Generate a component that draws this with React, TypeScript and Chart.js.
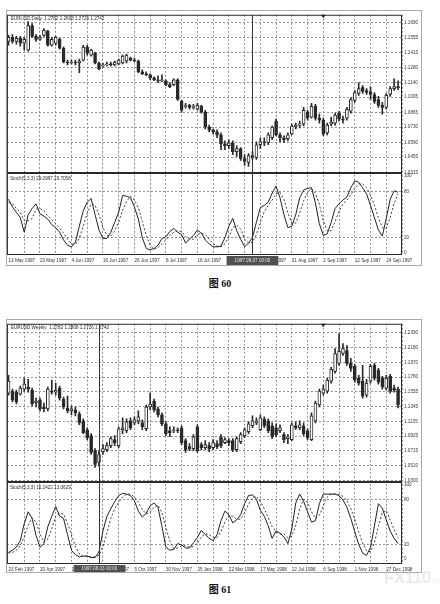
import React, { useEffect, useRef } from "react";
import { Chart, registerables } from "chart.js";

Chart.register(...registerables);

const FONT = "'Liberation Sans', Arial, sans-serif";
const FONT_SIZE = 4.6;
const INK = "#2a2a2a";
const GRID = "#8e8e8e";

// ---------------- Figure 60 : EURUSD Daily ----------------
const dailyOpen = [
  1.1518, 1.1554, 1.1518, 1.1545, 1.15, 1.1437, 1.1663, 1.1563, 1.1536, 1.1572,
  1.1609, 1.1482, 1.15, 1.1536, 1.1455, 1.1328, 1.1319, 1.1328, 1.1319, 1.1346,
  1.1464, 1.1391, 1.141, 1.1319, 1.1292, 1.1301, 1.131, 1.1301, 1.131, 1.1319,
  1.1337, 1.1364, 1.1346, 1.1337, 1.1238, 1.122, 1.1211, 1.1183, 1.1165, 1.1156,
  1.1156, 1.112, 1.112, 1.1165, 1.0966, 1.0921, 1.093, 1.0912, 1.0894, 1.0921,
  1.0867, 1.0731, 1.0704, 1.0686, 1.0659, 1.0577, 1.0559, 1.0586, 1.0505, 1.0532,
  1.0442, 1.0406, 1.0469, 1.0451, 1.0568, 1.0595, 1.0586, 1.0632, 1.0785, 1.0659,
  1.0632, 1.0623, 1.0668, 1.0731, 1.0749, 1.0758, 1.0867, 1.0822, 1.0921, 1.0813,
  1.0794, 1.0677, 1.0758, 1.0767, 1.0858, 1.0803, 1.0813, 1.0876, 1.0975, 1.1039,
  1.1093, 1.1066, 1.1057, 1.103, 1.0984, 1.093, 1.0912, 1.103, 1.1084, 1.1102,
];
const dailyHigh = [
  1.1572, 1.1581, 1.1563, 1.1563, 1.1554, 1.1699, 1.1681, 1.1581, 1.1572, 1.1636,
  1.1618, 1.1554, 1.1563, 1.1545, 1.1464, 1.1346, 1.1346, 1.1346, 1.1355, 1.1482,
  1.1482, 1.1446, 1.1419, 1.1328, 1.1319, 1.1328, 1.1328, 1.1337, 1.1355, 1.1391,
  1.1401, 1.1373, 1.1364, 1.1346, 1.1256, 1.1238, 1.122, 1.1192, 1.1202, 1.1211,
  1.1165, 1.1138, 1.1174, 1.1174, 1.0975, 1.0948, 1.0939, 1.0939, 1.0948, 1.093,
  1.0885, 1.0749, 1.0713, 1.0704, 1.0677, 1.0604, 1.0614, 1.0604, 1.0559, 1.0541,
  1.0478, 1.0487, 1.0505, 1.0595, 1.0632, 1.0632, 1.0677, 1.074, 1.0803, 1.0677,
  1.065, 1.0677, 1.0758, 1.0767, 1.0785, 1.0912, 1.0885, 1.0948, 1.0939, 1.0849,
  1.0813, 1.0767, 1.0822, 1.0858, 1.0876, 1.0831, 1.0912, 1.1002, 1.1066, 1.1138,
  1.1111, 1.1084, 1.1102, 1.1048, 1.1012, 1.0957, 1.1039, 1.1102, 1.1174, 1.1156,
];
const dailyLow = [
  1.1482, 1.15, 1.1491, 1.1473, 1.1437, 1.1428, 1.1554, 1.1518, 1.1527, 1.1563,
  1.1473, 1.1473, 1.1482, 1.1446, 1.1319, 1.1301, 1.131, 1.1301, 1.1229, 1.1337,
  1.1391, 1.1382, 1.131, 1.1256, 1.1283, 1.1292, 1.1292, 1.1292, 1.1301, 1.131,
  1.1319, 1.1337, 1.1328, 1.1229, 1.1211, 1.1202, 1.1165, 1.1156, 1.1138, 1.1147,
  1.1111, 1.1093, 1.1111, 1.0975, 1.0867, 1.0903, 1.0894, 1.0894, 1.0885, 1.0858,
  1.0713, 1.0686, 1.0668, 1.0632, 1.0523, 1.0523, 1.0532, 1.0478, 1.046, 1.0424,
  1.0379, 1.037, 1.0433, 1.0433, 1.0532, 1.0559, 1.0568, 1.0614, 1.065, 1.0595,
  1.0586, 1.0604, 1.0659, 1.0713, 1.0722, 1.074, 1.0794, 1.0813, 1.0794, 1.0767,
  1.065, 1.0659, 1.074, 1.0749, 1.0785, 1.0767, 1.0794, 1.0858, 1.0957, 1.1021,
  1.1039, 1.103, 1.0984, 1.0948, 1.0912, 1.0849, 1.0894, 1.1012, 1.1066, 1.1075,
];
const dailyClose = [
  1.1554, 1.1518, 1.1545, 1.15, 1.1536, 1.1663, 1.1563, 1.1536, 1.1554, 1.1618,
  1.1482, 1.1536, 1.1554, 1.1455, 1.1328, 1.1319, 1.1328, 1.1319, 1.1337, 1.1464,
  1.141, 1.1437, 1.1319, 1.1265, 1.1301, 1.131, 1.1301, 1.1328, 1.1346, 1.1382,
  1.1391, 1.1346, 1.1337, 1.1238, 1.122, 1.1211, 1.1183, 1.1165, 1.1156, 1.1165,
  1.112, 1.1102, 1.1165, 1.0984, 1.0885, 1.093, 1.0912, 1.0921, 1.093, 1.0867,
  1.0731, 1.0704, 1.0686, 1.0659, 1.0577, 1.0559, 1.0586, 1.0505, 1.0532, 1.0442,
  1.0415, 1.0469, 1.0451, 1.0568, 1.0595, 1.0586, 1.0659, 1.0731, 1.0659, 1.0632,
  1.0614, 1.0659, 1.074, 1.0749, 1.0758, 1.0885, 1.0813, 1.0921, 1.0813, 1.0794,
  1.0668, 1.0749, 1.0776, 1.084, 1.0803, 1.0794, 1.0894, 1.0984, 1.1048, 1.1084,
  1.1057, 1.1048, 1.103, 1.0966, 1.093, 1.0912, 1.1021, 1.1084, 1.1102, 1.1093,
];
const dailyStochK = [
  70, 60, 53, 46, 27, 50, 58, 64, 51, 48,
  44, 37, 33, 27, 17, 10, 8, 14, 35, 55,
  66, 71, 50, 30, 19, 19, 27, 40, 53, 75,
  74, 72, 60, 44, 20, 6, 4, 6, 10, 19,
  21, 28, 32, 27, 24, 13, 18, 23, 30, 26,
  17, 12, 8, 8, 9, 20, 35, 45, 29, 18,
  8, 13, 20, 40, 59, 62, 66, 78, 87, 72,
  50, 33, 35, 50, 72, 82, 84, 85, 65, 38,
  23, 25, 40, 58, 64, 69, 73, 85, 94, 92,
  85, 77, 62, 46, 30, 22, 45, 70, 81, 79,
];
const dailyStochD = [
  66, 64, 58, 53, 42, 42, 45, 57, 58, 55,
  48, 43, 38, 32, 26, 18, 12, 11, 19, 35,
  52, 64, 62, 50, 33, 23, 22, 29, 40, 56,
  67, 74, 69, 59, 41, 23, 10, 5, 7, 12,
  17, 23, 27, 29, 28, 21, 18, 18, 24, 26,
  24, 18, 12, 9, 8, 12, 21, 33, 36, 31,
  18, 13, 14, 24, 40, 54, 62, 69, 77, 79,
  70, 52, 39, 39, 52, 68, 79, 84, 78, 63,
  42, 29, 29, 41, 54, 64, 69, 76, 84, 90,
  90, 85, 75, 62, 46, 33, 32, 46, 65, 77,
];
const dailyDateLabels = [
  "13 May 1997", "23 May 1997", "4 Jun 1997", "16 Jun 1997", "26 Jun 1997",
  "8 Jul 1997", "18 Jul 1997", "30 Jul 1997", "11 Aug 1997", "21 Aug 1997",
  "2 Sep 1997", "12 Sep 1997", "24 Sep 1997",
];
const dailyPriceTicks = [
  1.169, 1.1555, 1.1415, 1.128, 1.114, 1.1005, 1.0865, 1.073, 1.059, 1.0455, 1.0315,
];

// ---------------- Figure 61 : EURUSD Weekly ----------------
const weeklyOpen = [
  1.1534, 1.1563, 1.1549, 1.152, 1.1591, 1.1619, 1.1577, 1.1394, 1.1436, 1.1338,
  1.131, 1.1563, 1.1549, 1.1605, 1.145, 1.1324, 1.1282, 1.1296, 1.124, 1.1142,
  1.1016, 1.0932, 1.0721, 1.0553, 1.0707, 1.0735, 1.0791, 1.0875, 1.0791, 1.1016,
  1.1002, 1.1142, 1.1114, 1.1142, 1.1114, 1.103, 1.1338, 1.1422, 1.131, 1.1226,
  1.11, 1.1002, 1.1002, 1.1016, 1.1044, 1.0861, 1.0777, 1.0749, 1.1058, 1.0805,
  1.0763, 1.0791, 1.0763, 1.0819, 1.0917, 1.0833, 1.0861, 1.0861, 1.0735, 1.0847,
  1.0932, 1.0988, 1.1072, 1.1114, 1.1016, 1.117, 1.1142, 1.1072, 1.1044, 1.1002,
  1.0946, 1.0889, 1.0875, 1.1072, 1.1044, 1.1072, 1.1002, 1.0875, 1.1142, 1.1366,
  1.1534, 1.1563, 1.1703, 1.1843, 1.1955, 1.2095, 1.2138, 1.1955, 1.1913, 1.1745,
  1.1703, 1.1506, 1.1703, 1.1927, 1.1857, 1.1745, 1.1605, 1.1773, 1.1605, 1.1591,
];
const weeklyHigh = [
  1.1787, 1.1591, 1.1577, 1.1633, 1.1745, 1.1731, 1.1605, 1.1464, 1.1464, 1.1394,
  1.1619, 1.1717, 1.1675, 1.1633, 1.1478, 1.1492, 1.1352, 1.1338, 1.1268, 1.117,
  1.1044, 1.096, 1.0749, 1.0721, 1.0805, 1.0833, 1.0917, 1.0932, 1.1058, 1.1184,
  1.117, 1.1184, 1.1198, 1.1282, 1.1156, 1.1366, 1.1534, 1.145, 1.1338, 1.1254,
  1.1128, 1.1058, 1.1058, 1.1044, 1.1072, 1.0889, 1.0819, 1.0946, 1.1086, 1.0833,
  1.0861, 1.0833, 1.0875, 1.0861, 1.0946, 1.0903, 1.0889, 1.0889, 1.0917, 1.0974,
  1.1044, 1.1128, 1.1212, 1.1184, 1.1226, 1.1198, 1.117, 1.1114, 1.11, 1.1086,
  1.0974, 1.0946, 1.1114, 1.1128, 1.1142, 1.1114, 1.103, 1.1254, 1.1422, 1.1591,
  1.1647, 1.1745, 1.1899, 1.2166, 1.2376, 1.2236, 1.2208, 1.2025, 1.1941, 1.1787,
  1.1927, 1.1731, 1.1941, 1.1955, 1.1885, 1.1773, 1.1787, 1.1801, 1.1647, 1.1619,
];
const weeklyLow = [
  1.1506, 1.1408, 1.138, 1.1506, 1.1563, 1.1549, 1.1352, 1.1338, 1.1282, 1.1268,
  1.1282, 1.152, 1.1506, 1.1436, 1.131, 1.1254, 1.1226, 1.1212, 1.1086, 1.096,
  1.0875, 1.0665, 1.0483, 1.0497, 1.0665, 1.0707, 1.0763, 1.0791, 1.0763, 1.096,
  1.0974, 1.1016, 1.1086, 1.11, 1.1016, 1.1002, 1.1296, 1.1268, 1.1198, 1.1072,
  1.0932, 1.0917, 1.0974, 1.0974, 1.0805, 1.0693, 1.0721, 1.0721, 1.0693, 1.0735,
  1.0735, 1.0707, 1.0735, 1.0749, 1.0763, 1.0819, 1.0791, 1.0707, 1.0707, 1.0819,
  1.0903, 1.096, 1.1044, 1.1086, 1.1002, 1.1044, 1.0974, 1.0889, 1.0917, 1.0974,
  1.0833, 1.0819, 1.0861, 1.1016, 1.1016, 1.0932, 1.0875, 1.0861, 1.1114, 1.1338,
  1.1506, 1.1534, 1.1675, 1.1815, 1.1927, 1.2067, 1.1927, 1.1843, 1.1689, 1.1647,
  1.1464, 1.1478, 1.1675, 1.1717, 1.1661, 1.1591, 1.1577, 1.1534, 1.1549, 1.1324,
];
const weeklyClose = [
  1.1703, 1.1436, 1.1408, 1.1605, 1.1661, 1.1591, 1.138, 1.1422, 1.131, 1.131,
  1.1591, 1.1549, 1.1577, 1.1464, 1.1338, 1.1282, 1.131, 1.1254, 1.1114, 1.0974,
  1.0903, 1.0693, 1.0525, 1.0665, 1.0749, 1.0791, 1.0889, 1.0833, 1.103, 1.1044,
  1.1128, 1.1044, 1.1156, 1.1198, 1.1058, 1.1338, 1.138, 1.1296, 1.1226, 1.11,
  1.096, 1.0974, 1.1016, 1.1002, 1.0833, 1.0735, 1.0749, 1.0917, 1.0721, 1.0763,
  1.0805, 1.0749, 1.0833, 1.0777, 1.0791, 1.0875, 1.0833, 1.0735, 1.0889, 1.0946,
  1.1016, 1.11, 1.1142, 1.1142, 1.1184, 1.1072, 1.1002, 1.0917, 1.0946, 1.1044,
  1.0875, 1.0917, 1.1086, 1.1044, 1.1086, 1.096, 1.0903, 1.1212, 1.1394, 1.1563,
  1.1591, 1.1717, 1.1871, 1.2095, 1.2124, 1.2166, 1.1955, 1.1885, 1.1717, 1.1675,
  1.1492, 1.1675, 1.1913, 1.1745, 1.1689, 1.1619, 1.1745, 1.1563, 1.1577, 1.1366,
];
const weeklyStochK = [
  9, 12, 16, 25, 48, 64, 55, 32, 16, 21,
  44, 58, 71, 58, 55, 33, 12, 6, 3, 4,
  4, 2, 2, 10, 38, 58, 68, 78, 86, 89,
  88, 86, 79, 65, 57, 62, 72, 76, 70, 44,
  16, 12, 13, 21, 19, 15, 15, 22, 29, 39,
  33, 28, 25, 33, 52, 65, 60, 49, 53, 60,
  75, 86, 87, 81, 66, 58, 45, 28, 38, 35,
  30, 21, 41, 76, 88, 78, 64, 50, 52, 75,
  88, 88, 88, 88, 86, 80, 70, 55, 37, 20,
  8, 5, 16, 45, 75, 69, 53, 38, 28, 21,
];
const weeklyStochD = [
  8, 9, 12, 18, 30, 46, 56, 50, 34, 23,
  27, 41, 58, 62, 61, 48, 33, 17, 7, 4,
  4, 3, 3, 5, 17, 35, 55, 68, 77, 84,
  88, 88, 84, 77, 67, 61, 64, 70, 73, 63,
  43, 24, 14, 15, 18, 18, 16, 17, 22, 30,
  34, 33, 29, 29, 37, 50, 59, 58, 54, 54,
  63, 74, 83, 85, 78, 68, 56, 44, 37, 34,
  34, 29, 31, 46, 68, 81, 77, 64, 55, 59,
  72, 84, 88, 88, 87, 85, 79, 68, 54, 37,
  22, 11, 10, 22, 45, 63, 66, 53, 40, 29,
];
const weeklyDateLabels = [
  "23 Feb 1997", "20 Apr 1997", "15 Jun 1997", "10 Aug 1997", "5 Oct 1997",
  "30 Nov 1997", "25 Jan 1998", "22 Mar 1998", "17 May 1998", "12 Jul 1998",
  "6 Sep 1998", "1 Nov 1998", "27 Dec 1998",
];
const weeklyPriceTicks = [
  1.239, 1.218, 1.197, 1.176, 1.1555, 1.1345, 1.1135, 1.0925, 1.0715, 1.051, 1.03,
];

const stochTicks = [0, 20, 80, 100];

const fig60 = {
  open: dailyOpen, high: dailyHigh, low: dailyLow, close: dailyClose,
  k: dailyStochK, d: dailyStochD, dateLabels: dailyDateLabels, priceTicks: dailyPriceTicks,
  priceMin: 1.0306, priceMax: 1.1762, stochMin: -2.6, stochMax: 103.8,
  title: "EURUSD,Daily  1.2782 1.2808 1.2726 1.2742",
  stochTitle: "Stoch(5,3,3) 29.0997 20.7058",
  crossBar: 62, crossLabel: "1997.08.07 00:00", markerBar: 80,
  axisHeight: 11,
};
const fig61 = {
  open: weeklyOpen, high: weeklyHigh, low: weeklyLow, close: weeklyClose,
  k: weeklyStochK, d: weeklyStochD, dateLabels: weeklyDateLabels, priceTicks: weeklyPriceTicks,
  priceMin: 1.0272, priceMax: 1.2516, stochMin: -6.7, stochMax: 104,
  title: "EURUSD,Weekly  1.2782 1.2808 1.2726 1.2742",
  stochTitle: "Stoch(5,3,3) 16.2422 13.0629",
  crossBar: 23, crossLabel: "1997.08.03 00:00", markerBar: 80,
  axisHeight: 9,
};

const decorPlugin = {
  id: "mtDecor",
  afterDraw(chart: any, _args: any, o: any) {
    const { ctx, chartArea: a, scales } = chart;
    const xs = scales.x;
    const ys = scales.yStoch;
    ctx.save();
    ctx.strokeStyle = INK;
    ctx.lineWidth = 1;
    ctx.strokeRect(a.left + 0.5, a.top + 0.5, a.right - a.left - 1, a.bottom - a.top - 1);
    ctx.lineWidth = 2;
    const sy = Math.round(ys.top);
    ctx.beginPath();
    ctx.moveTo(a.left, sy);
    ctx.lineTo(a.right, sy);
    ctx.stroke();

    const cx = Math.round(xs.getPixelForValue(o.crossBar)) + 0.5;
    ctx.lineWidth = 1;
    ctx.strokeStyle = "#333";
    ctx.beginPath();
    ctx.moveTo(cx, a.top);
    ctx.lineTo(cx, a.bottom);
    ctx.stroke();

    ctx.font = `${FONT_SIZE}px ${FONT}`;
    const tw = ctx.measureText(o.crossLabel).width + 16;
    ctx.fillStyle = "#505050";
    ctx.fillRect(cx - tw / 2, xs.top + 1, tw, xs.bottom - xs.top - 2);
    ctx.fillStyle = "#e8e8e8";
    ctx.textAlign = "center";
    ctx.textBaseline = "middle";
    ctx.fillText(o.crossLabel, cx, (xs.top + xs.bottom) / 2 + 0.5);

    const mx = xs.getPixelForValue(o.markerBar);
    ctx.fillStyle = INK;
    ctx.beginPath();
    ctx.moveTo(mx - 2.5, a.top);
    ctx.lineTo(mx + 2.5, a.top);
    ctx.lineTo(mx, a.top + 3.5);
    ctx.closePath();
    ctx.fill();

    ctx.textAlign = "left";
    ctx.textBaseline = "top";
    ctx.fillStyle = INK;
    ctx.fillText(o.title, a.left + 4, a.top + 2);
    ctx.fillText(o.stochTitle, a.left + 3, ys.top + 3);
    ctx.restore();
  },
};

function buildConfig(spec: any) {
  const bodies = spec.open.map((o: number, i: number) => ({ x: i, y: [o, spec.close[i]] }));
  const wicks = spec.low.map((l: number, i: number) => ({ x: i, y: [l, spec.high[i]] }));
  const bodyColors = spec.open.map((o: number, i: number) => (spec.close[i] >= o ? "#ffffff" : INK));
  const gridBars: number[] = [];
  for (let v = 0; v < spec.dateLabels.length * 8; v += 4) gridBars.push(v);
  const tickFont = { size: FONT_SIZE, family: FONT };
  return {
    type: "bar",
    data: {
      datasets: [
        { type: "bar", data: wicks, xAxisID: "x", yAxisID: "yPrice", grouped: false, barThickness: 1,
          backgroundColor: INK, borderWidth: 0, order: 3 },
        { type: "bar", data: bodies, xAxisID: "x", yAxisID: "yPrice", grouped: false, barThickness: 3,
          minBarLength: 1, backgroundColor: bodyColors, borderColor: INK, borderWidth: 1,
          borderSkipped: false, order: 2 },
        { type: "line", data: spec.k.map((v: number, i: number) => ({ x: i, y: v })), xAxisID: "x",
          yAxisID: "yStoch", borderColor: "#222", borderWidth: 1, pointRadius: 0, tension: 0, order: 1 },
        { type: "line", data: spec.d.map((v: number, i: number) => ({ x: i, y: v })), xAxisID: "x",
          yAxisID: "yStoch", borderColor: "#3a3a3a", borderWidth: 1, borderDash: [2, 2], pointRadius: 0,
          tension: 0, order: 1 },
      ],
    },
    options: {
      responsive: false,
      animation: false,
      devicePixelRatio: 1,
      events: [],
      layout: { padding: { top: 1, left: 0, right: 0, bottom: 0 } },
      plugins: { legend: { display: false }, tooltip: { enabled: false }, title: { display: false }, mtDecor: spec },
      scales: {
        x: {
          type: "linear", position: "bottom", min: -0.4, max: 100, offset: false,
          afterBuildTicks: (s: any) => { s.ticks = gridBars.map((v) => ({ value: v })); },
          afterFit: (s: any) => { s.height = spec.axisHeight; },
          grid: {
            offset: false, drawTicks: false, tickLength: 0, lineWidth: 1,
            color: (c: any) => (c.tick && c.tick.value === 0 ? "rgba(0,0,0,0)" : GRID),
          },
          border: { display: false, dash: [2, 2] },
          ticks: {
            autoSkip: false, maxRotation: 0, minRotation: 0, align: "start", padding: 2.5, color: "#333",
            font: tickFont,
            callback: (v: number) => (v % 8 === 0 ? spec.dateLabels[v / 8] || "" : ""),
          },
        },
        yPrice: {
          type: "linear", position: "right", stack: "fig", stackWeight: 161,
          min: spec.priceMin, max: spec.priceMax,
          afterBuildTicks: (s: any) => { s.ticks = spec.priceTicks.map((v: number) => ({ value: v })); },
          afterFit: (s: any) => { s.width = 20; },
          grid: { drawTicks: false, tickLength: 0, color: GRID, lineWidth: 1 },
          border: { display: false, dash: [2, 2] },
          ticks: {
            autoSkip: false, padding: 2, color: "#333", font: tickFont,
            callback: (v: number) => v.toFixed(4),
          },
        },
        yStoch: {
          type: "linear", position: "right", stack: "fig", stackWeight: 83,
          min: spec.stochMin, max: spec.stochMax,
          afterBuildTicks: (s: any) => { s.ticks = stochTicks.map((v) => ({ value: v })); },
          afterFit: (s: any) => { s.width = 20; },
          grid: {
            drawTicks: false, tickLength: 0, lineWidth: 1,
            color: (c: any) => (c.tick && (c.tick.value === 20 || c.tick.value === 80) ? GRID : "rgba(0,0,0,0)"),
          },
          border: { display: false, dash: [2, 2] },
          ticks: { autoSkip: false, padding: 2, color: "#333", font: tickFont, callback: (v: number) => String(v) },
        },
      },
    },
    plugins: [decorPlugin],
  };
}

function MtChart({ spec, left, top, width, height }: any) {
  const ref = useRef<HTMLCanvasElement>(null);
  useEffect(() => {
    const chart = new Chart(ref.current as HTMLCanvasElement, buildConfig(spec) as any);
    return () => chart.destroy();
  }, [spec]);
  return (
    <>
      <div
        style={{
          position: "absolute", left, top, width, height, border: "1px solid #a9a9a9",
          boxSizing: "border-box", background: "#fff",
        }}
      />
      <canvas
        ref={ref}
        width={width}
        height={height}
        style={{ position: "absolute", left, top, width, height, display: "block" }}
      />
    </>
  );
}

const captionStyle: React.CSSProperties = {
  position: "absolute", left: 0, width: 440, textAlign: "center",
  fontFamily: "'Liberation Serif', 'Noto Sans CJK SC', serif", fontWeight: 700, fontSize: 10,
  color: "#111", lineHeight: "12px",
};

export default function App() {
  return (
    <div style={{ position: "absolute", left: 0, top: 0, width: 440, height: 604, background: "#fff", overflow: "hidden" }}>
      <MtChart spec={fig60} left={6} top={10} width={416} height={256} />
      <div style={{ ...captionStyle, top: 278 }}>图 60</div>
      <MtChart spec={fig61} left={6} top={319} width={416} height={254} />
      <div style={{ ...captionStyle, top: 584 }}>图 61</div>
      <div
        style={{
          position: "absolute", left: 384, top: 568, fontFamily: "'Liberation Sans', Arial, sans-serif",
          fontWeight: 700, fontSize: 17, color: "rgba(190,190,190,0.3)", letterSpacing: -0.5,
        }}
      >
        FX110<span style={{ fontSize: 9, fontWeight: 400 }}>.com</span>
      </div>
    </div>
  );
}
